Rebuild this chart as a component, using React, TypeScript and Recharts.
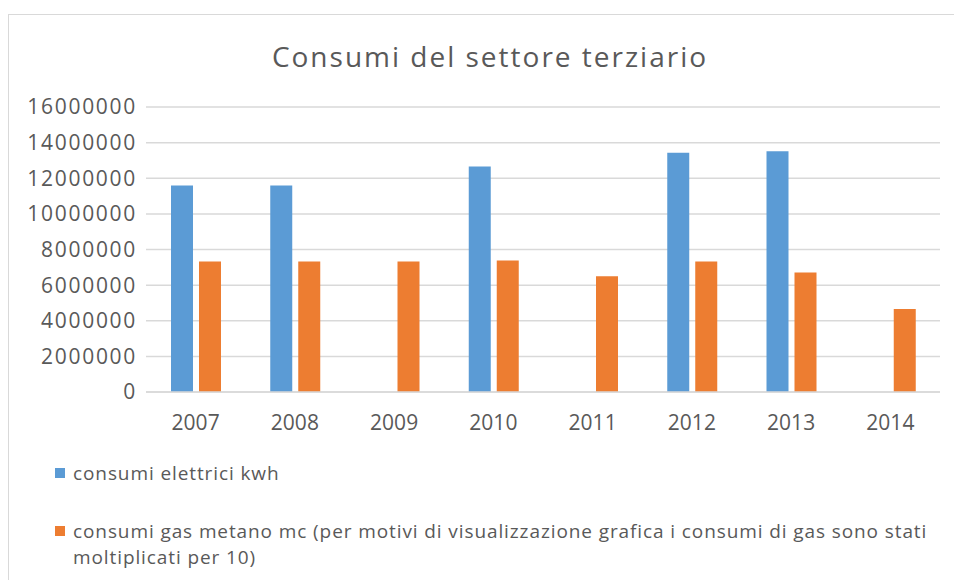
import React from 'react';
import { BarChart, Bar, XAxis, YAxis, CartesianGrid } from 'recharts';

const years = ['2007', '2008', '2009', '2010', '2011', '2012', '2013', '2014'];
const elettrici = [11600000, 11600000, null, 12660000, null, 13430000, 13520000, null];
const gas = [7330000, 7330000, 7330000, 7380000, 6500000, 7330000, 6710000, 4660000];
const yTicks = [0, 2000000, 4000000, 6000000, 8000000, 10000000, 12000000, 14000000, 16000000];

const seriesNames = {
  elettrici: 'consumi elettrici kwh',
  gas: 'consumi gas metano mc (per motivi di visualizzazione grafica i consumi di gas sono stati moltiplicati per 10)',
};

const BLUE = '#5b9bd5';
const ORANGE = '#ed7d31';
const TEXT = '#595959';
const GRID = '#d9d9d9';
const FONT = '"Open Sans", sans-serif';

const data = years.map((year, i) => ({
  year,
  elettrici: elettrici[i],
  gas: gas[i],
}));

function LegendItem({ color, label, top }: { color: string; label: string; top: number }) {
  return (
    <div style={{ position: 'absolute', left: 55, top, width: 885, display: 'flex', alignItems: 'flex-start' }}>
      <span style={{ width: 10, height: 10, background: color, marginTop: 8, marginRight: 8, flexShrink: 0 }} />
      <span style={{ fontSize: 19, lineHeight: '26px', color: TEXT, letterSpacing: 0.9 }}>{label}</span>
    </div>
  );
}

export default function App() {
  return (
    <div
      style={{
        position: 'absolute',
        left: 0,
        top: 0,
        width: 954,
        height: 580,
        overflow: 'hidden',
        background: '#fff',
        fontFamily: FONT,
      }}
    >
      <div
        style={{
          position: 'absolute',
          left: 8,
          top: 14,
          width: 980,
          height: 620,
          border: `1px solid ${GRID}`,
          boxSizing: 'border-box',
        }}
      />
      <div
        style={{
          position: 'absolute',
          left: 0,
          top: 38,
          width: 980,
          textAlign: 'center',
          fontSize: 28,
          lineHeight: '36px',
          letterSpacing: 2,
          color: TEXT,
        }}
      >
        Consumi del settore terziario
      </div>
      <div style={{ position: 'absolute', left: 0, top: 0 }}>
        <BarChart
          width={954}
          height={580}
          data={data}
          margin={{ top: 107, right: 14, left: 0, bottom: 120 }}
          barSize={22}
          barGap={6}
        >
          <CartesianGrid vertical={false} stroke={GRID} strokeWidth={1.5} />
          <XAxis
            dataKey="year"
            height={68}
            axisLine={{ stroke: GRID, strokeWidth: 1.5 }}
            tickLine={false}
            tickSize={0}
            tickMargin={23}
            tick={{ fill: TEXT, fontSize: 21, fontFamily: FONT }}
          />
          <YAxis
            width={146}
            domain={[0, 16000000]}
            ticks={yTicks}
            interval={0}
            axisLine={false}
            tickLine={false}
            tickSize={0}
            tickMargin={9}
            tick={{ fill: TEXT, fontSize: 21, fontFamily: FONT, letterSpacing: 1.7 }}
          />
          <Bar dataKey="elettrici" name={seriesNames.elettrici} fill={BLUE} isAnimationActive={false} />
          <Bar dataKey="gas" name={seriesNames.gas} fill={ORANGE} isAnimationActive={false} />
        </BarChart>
      </div>
      <LegendItem color={BLUE} label={seriesNames.elettrici} top={460} />
      <LegendItem color={ORANGE} label={seriesNames.gas} top={518} />
    </div>
  );
}
